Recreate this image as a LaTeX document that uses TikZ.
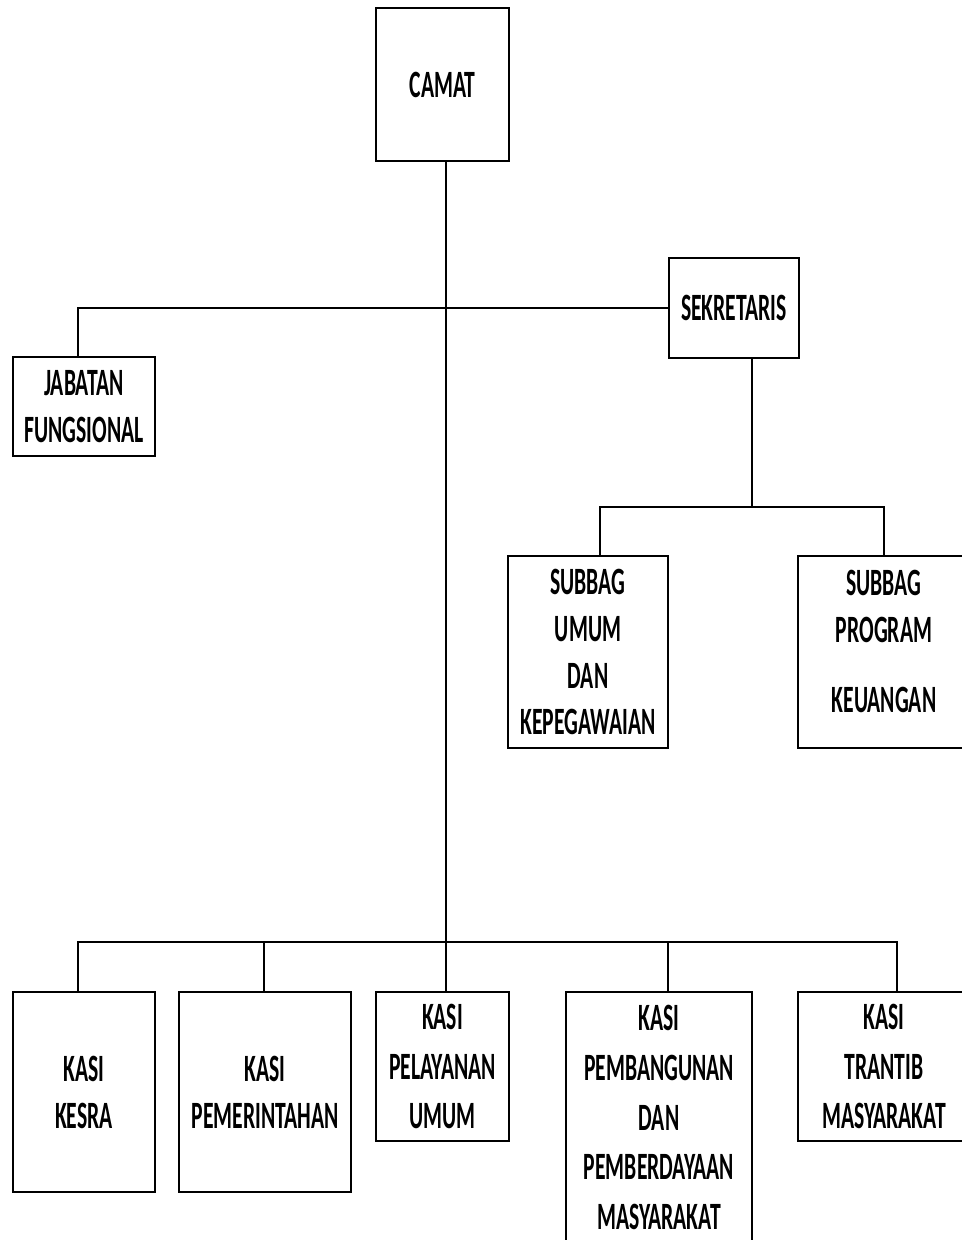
\documentclass[tikz,border=0pt]{standalone}
\usepackage{fontspec}
\setmainfont{Carlito}[FakeStretch=0.56]

\begin{document}
\begin{tikzpicture}[x=0.02cm, y=-0.02cm, line width=1.1pt,
    kotak/.style 2 args={draw, inner sep=0pt, align=center,
      minimum width=#1*0.02cm, minimum height=#2*0.02cm,
      font=\fontsize{22}{26.7}\selectfont\bfseries},
    renggang/.style={font=\fontsize{22}{28.4}\selectfont\bfseries}]
    \useasboundingbox (0,0) rectangle (962,1240);
    % kotak-kotak
    \node[kotak={133}{153}] (camat) at (442.5,84.5) {CAMAT};
    \node[kotak={130}{100}] (sekretaris) at (734,308) {SEKRETARIS};
    \node[kotak={142}{99}] (jabfung) at (84,406.5) {JABATAN\\FUNGSIONAL};
    \node[kotak={160}{192}] (subumum) at (588,652) {SUBBAG\\UMUM\\DAN\\KEPEGAWAIAN};
    \node[kotak={172}{192}] (subprog) at (884,652) {SUBBAG\\PROGRAM\\[0.46cm]KEUANGAN\\[-0.5cm]\mbox{}};
    \node[kotak={142}{200}] (kesra) at (84,1092) {KASI\\KESRA};
    \node[kotak={172}{200}] (pemerintahan) at (265,1092) {KASI\\PEMERINTAHAN};
    \node[kotak={133}{149}, renggang] (pelayanan) at (442.5,1066.5) {KASI\\PELAYANAN\\UMUM};
    \node[kotak={186}{251}, renggang] (pembangunan) at (659,1117.5) {KASI\\PEMBANGUNAN\\DAN\\PEMBERDAYAAN\\MASYARAKAT};
    \node[kotak={172}{149}, renggang] (trantib) at (884,1066.5) {KASI\\TRANTIB\\MASYARAKAT};
    % garis
    \coordinate (cabang) at (446,307);
    \coordinate (busbawah) at (446,942);
    \coordinate (bussek) at (752,507);
    \draw (camat.south -| cabang) -- (pelayanan.north -| cabang);
    \draw (sekretaris.west) -| (jabfung.north -| 78,0);
    \draw (sekretaris.south -| bussek) -- (bussek);
    \draw (subumum.north -| 600,0) |- (bussek) -| (subprog.north);
    \draw (kesra.north -| 78,0) |- (busbawah) -| (trantib.north -| 897,0);
    \foreach \n/\x in {pemerintahan/264, pembangunan/668}
      \draw (\n.north -| \x,0) -- (busbawah -| \x,0);
\end{tikzpicture}
\end{document}
